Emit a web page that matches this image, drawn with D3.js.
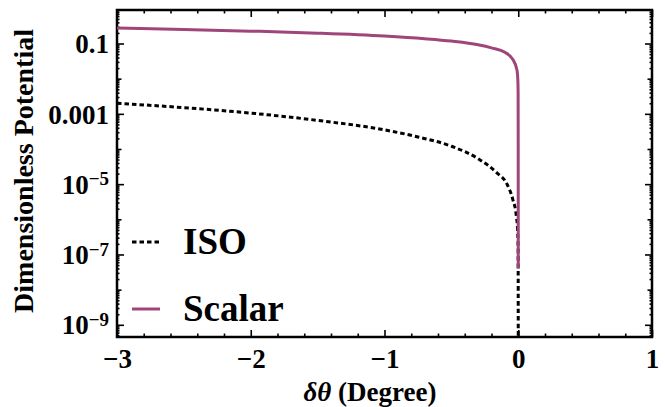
<!DOCTYPE html>
<html>
<head>
<meta charset="utf-8">
<script src="https://cdn.jsdelivr.net/npm/d3@7"></script>
<style>
  body { margin: 0; background: #fff; }
  svg text { font-family: "Liberation Serif", "Times New Roman", serif; font-weight: bold; fill: #000; }
</style>
</head>
<body>
<div id="chart"></div>
<script>
// data
const isoTheta = [-3, -2.5, -2, -1.5, -1, -0.75, -0.5, -0.3, -0.16, -0.084, -0.04, -0.015, -0.005, -0.001, -0.0001, 0];
const isoValue = [2.0e-3, 1.5e-3, 1.05e-3, 6.5e-4, 3.5e-4, 2.2e-4, 1.2e-4, 5.3e-5, 2.1e-5, 1.0e-5, 3.6e-6, 1.3e-6, 5e-7, 1.5e-7, 1e-9, 1e-11];

const scalarTheta = [-3, -2.5, -2, -1.5, -1, -0.7, -0.5, -0.3, -0.2, -0.1, -0.04, -0.01, -0.003, -0.001, -0.0003, -0.0001, 0];
const scalarValue = [0.275, 0.25, 0.225, 0.197, 0.163, 0.137, 0.117, 0.092, 0.075, 0.056, 0.035, 0.018, 0.009, 0.004, 1e-4, 3.6e-6, 4e-8];

const xTicks = [-3, -2, -1, 0, 1];
const yTicks = [1e-1, 1e-3, 1e-5, 1e-7, 1e-9];
const legendNames = ["ISO", "Scalar"];

const width = 665;
const height = 407;
const margin = { left: 117, right: 13, top: 10, bottom: 70 };
const purple = "#a0457a";

const svg = d3.select("#chart").append("svg")
  .attr("width", width)
  .attr("height", height);

const xScale = d3.scaleLinear()
  .domain([-3, 1])
  .range([margin.left, width - margin.right]);

const yScale = d3.scaleLog()
  .domain([Math.pow(10, -9.347), Math.pow(10, -0.047)])
  .range([height - margin.bottom, margin.top]);

const fmtX = (d) => (d < 0 ? "\u2212" + Math.abs(d) : String(d));

// minor ticks
const xMinor = d3.range(-3, 1.0001, 0.2).map((d) => Math.round(d * 10) / 10)
  .filter((d) => !xTicks.includes(d));
const yDecades = d3.range(-9, 0).map((e) => Math.pow(10, e));
const yMid = yDecades.filter((d) => !yTicks.some((t) => Math.abs(t / d - 1) < 1e-6));
const yMinor = [];
d3.range(-10, 0).forEach((e) => {
  for (let k = 2; k <= 9; k++) {
    const v = k * Math.pow(10, e);
    if (v >= yScale.domain()[0] && v <= yScale.domain()[1]) yMinor.push(v);
  }
});

const plotBottom = height - margin.bottom;
const plotRight = width - margin.right;

// bottom axis with labels
const gx = svg.append("g")
  .attr("id", "x-axis")
  .attr("transform", `translate(0, ${plotBottom})`)
  .call(d3.axisBottom(xScale).tickValues(xTicks).tickSize(-7).tickPadding(12).tickFormat(fmtX));
gx.selectAll("text").style("font-size", "27px");

svg.append("g")
  .attr("transform", `translate(0, ${plotBottom})`)
  .call(d3.axisBottom(xScale).tickValues(xMinor).tickSize(-3.5).tickFormat(""));

// top axis, ticks only
svg.append("g")
  .attr("transform", `translate(0, ${margin.top})`)
  .call(d3.axisTop(xScale).tickValues(xTicks).tickSize(-7).tickFormat(""));
svg.append("g")
  .attr("transform", `translate(0, ${margin.top})`)
  .call(d3.axisTop(xScale).tickValues(xMinor).tickSize(-3.5).tickFormat(""));

// left axis with labels
const gy = svg.append("g")
  .attr("id", "y-axis")
  .attr("transform", `translate(${margin.left}, 0)`)
  .call(d3.axisLeft(yScale).tickValues(yTicks).tickSize(-7).tickPadding(8).tickFormat(""));

gy.selectAll(".tick text").each(function (d) {
  const t = d3.select(this).style("font-size", "27px").attr("dy", "0.34em");
  const e = Math.round(Math.log10(d));
  if (e >= -3) {
    t.text(d3.format("")(d));
  } else {
    t.append("tspan").text("10");
    t.append("tspan").attr("dy", "-0.45em").style("font-size", "19px").text("\u2212" + Math.abs(e));
  }
});

[[yMid, 4.5], [yMinor, 2.5]].forEach(([vals, size]) => {
  svg.append("g")
    .attr("transform", `translate(${margin.left}, 0)`)
    .call(d3.axisLeft(yScale).tickValues(vals).tickSize(-size).tickFormat(""));
});

// right axis, ticks only
[[yTicks, 7], [yMid, 4.5], [yMinor, 2.5]].forEach(([vals, size]) => {
  svg.append("g")
    .attr("transform", `translate(${plotRight}, 0)`)
    .call(d3.axisRight(yScale).tickValues(vals).tickSize(-size).tickFormat(""));
});

svg.selectAll(".domain").remove();
svg.selectAll(".tick line").attr("stroke", "#000").attr("stroke-width", 1.6);

// frame
svg.append("rect")
  .attr("x", margin.left)
  .attr("y", margin.top)
  .attr("width", plotRight - margin.left)
  .attr("height", plotBottom - margin.top)
  .attr("fill", "none")
  .attr("stroke", "#000")
  .attr("stroke-width", 2.5);

// clip
svg.append("clipPath").attr("id", "clip")
  .append("rect")
  .attr("x", margin.left)
  .attr("y", margin.top)
  .attr("width", plotRight - margin.left)
  .attr("height", plotBottom - margin.top);

const line = d3.line()
  .x((d) => xScale(d[0]))
  .y((d) => yScale(d[1]))
  .curve(d3.curveMonotoneX);

const plot = svg.append("g").attr("clip-path", "url(#clip)");

plot.append("path")
  .datum(isoTheta.map((t, i) => [t, isoValue[i]]))
  .attr("fill", "none")
  .attr("stroke", "#000")
  .attr("stroke-width", 3)
  .attr("stroke-dasharray", "4.5,3")
  .attr("d", line);

plot.append("path")
  .datum(scalarTheta.map((t, i) => [t, scalarValue[i]]))
  .attr("fill", "none")
  .attr("stroke", purple)
  .attr("stroke-width", 3)
  .attr("d", line);

// legend
const legend = svg.append("g").attr("id", "legend");
const legendY = [242, 309];
legendNames.forEach((name, i) => {
  legend.append("line")
    .attr("x1", 132).attr("x2", 160)
    .attr("y1", legendY[i]).attr("y2", legendY[i])
    .attr("stroke", i === 0 ? "#000" : purple)
    .attr("stroke-width", 3)
    .attr("stroke-dasharray", i === 0 ? "4.5,3" : null);
  legend.append("text")
    .attr("x", 183)
    .attr("y", legendY[i] + 12)
    .style("font-size", "37px")
    .text(name);
});

// axis titles
svg.append("text")
  .attr("x", 370)
  .attr("y", 401)
  .attr("text-anchor", "middle")
  .style("font-size", "27px")
  .html('<tspan font-style="italic">\u03b4\u03b8</tspan> (Degree)');

svg.append("text")
  .attr("transform", "translate(33, 171) rotate(-90)")
  .attr("text-anchor", "middle")
  .style("font-size", "28px")
  .text("Dimensionless Potential");
</script>
</body>
</html>
